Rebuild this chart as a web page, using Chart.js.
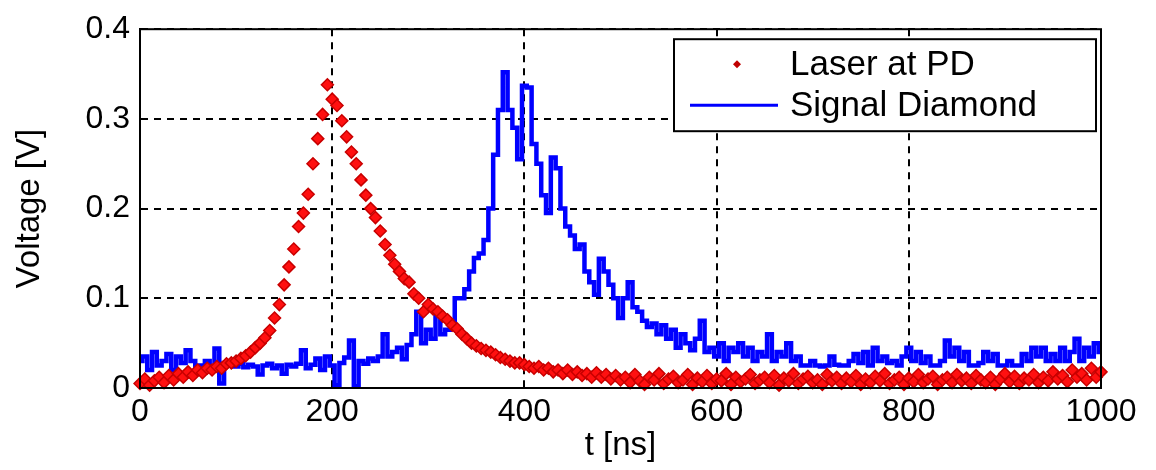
<!DOCTYPE html>
<html>
<head>
<meta charset="utf-8">
<script src="https://cdn.jsdelivr.net/npm/chart.js@4/dist/chart.umd.min.js"></script>
<style>
  html, body { margin: 0; padding: 0; background: #fff; }
  #wrap { width: 1156px; height: 470px; }
</style>
</head>
<body>
<div id="wrap"><canvas id="chart"></canvas></div>
<script>
// sampling step of both traces, in ns
const sampleStepNs = 5

// Laser at PD (red markers), one value every 5 ns from 0 to 1000 ns
const laserAtPd = [
  0.005, 0.01, 0.003, 0.008, 0.012, 0.006, 0.014, 0.009, 0.016, 0.012,
  0.018, 0.014, 0.02, 0.017, 0.022, 0.02, 0.024, 0.022, 0.027, 0.028,
  0.03, 0.033, 0.036, 0.04, 0.045, 0.05, 0.056, 0.064, 0.078, 0.093,
  0.115, 0.135, 0.155, 0.18, 0.195, 0.216, 0.25, 0.278, 0.305, 0.338,
  0.322, 0.315, 0.298, 0.28, 0.263, 0.25, 0.232, 0.215, 0.2, 0.19,
  0.175, 0.16, 0.148, 0.138, 0.13, 0.122, 0.118, 0.105, 0.1, 0.085,
  0.093, 0.088, 0.085, 0.08, 0.076, 0.07, 0.066, 0.06, 0.055, 0.05,
  0.047, 0.044, 0.042, 0.04, 0.037, 0.034, 0.032, 0.03, 0.028, 0.028,
  0.026, 0.024, 0.022, 0.024, 0.02, 0.022, 0.018, 0.02, 0.016, 0.02,
  0.015, 0.018, 0.014, 0.016, 0.012, 0.017, 0.012, 0.015, 0.01, 0.014,
  0.009,
  0.012, 0.006, 0.015, 0.008, 0.004, 0.012, 0.009, 0.016, 0.005, 0.01,
  0.013, 0.006, 0.009, 0.015, 0.004, 0.011, 0.007, 0.014, 0.005, 0.01,
  0.008, 0.016, 0.004, 0.012, 0.007, 0.01, 0.015, 0.005, 0.009, 0.012,
  0.006, 0.014, 0.003, 0.011, 0.008, 0.016, 0.005, 0.01, 0.013, 0.006,
  0.009, 0.004, 0.015, 0.008, 0.012, 0.005, 0.011, 0.007, 0.014, 0.004,
  0.01, 0.006, 0.013, 0.008, 0.016, 0.005, 0.009, 0.012, 0.004, 0.011,
  0.007, 0.015, 0.006, 0.01, 0.013, 0.004, 0.009, 0.012, 0.006, 0.015,
  0.008, 0.011, 0.005, 0.014, 0.009, 0.006, 0.012, 0.004, 0.01, 0.016,
  0.007, 0.013, 0.005, 0.011, 0.009, 0.015, 0.006, 0.012, 0.008, 0.018,
  0.01, 0.014, 0.007, 0.02, 0.012, 0.016, 0.009, 0.022, 0.012, 0.018
]

// Signal Diamond (blue line), same time grid
const signalDiamond = [
  0.03, 0.035, 0.02, 0.04, 0.025, 0.03, 0.038, 0.02, 0.035, 0.028,
  0.042, 0.03, 0.02, 0.025, 0.03, 0.022, 0.044, 0.005, 0.028, 0.025,
  0.024, 0.027, 0.023, 0.026, 0.024, 0.015, 0.025, 0.027, 0.022, 0.025,
  0.016, 0.026, 0.024, 0.027, 0.042, 0.022, 0.026, 0.033, 0.02, 0.035,
  0.025, 0.003, 0.028, 0.034, 0.053, 0.002, 0.03, 0.027, 0.033, 0.03,
  0.035, 0.06, 0.035, 0.04, 0.045, 0.032, 0.048, 0.06, 0.085, 0.05,
  0.065, 0.055, 0.085, 0.06, 0.065, 0.07, 0.1, 0.1, 0.11, 0.13,
  0.145, 0.15, 0.165, 0.2, 0.26, 0.31, 0.352, 0.31, 0.29, 0.255,
  0.337, 0.335, 0.272, 0.25, 0.215, 0.195, 0.257, 0.245, 0.2, 0.18,
  0.17, 0.155, 0.16, 0.13, 0.118, 0.104, 0.144, 0.13, 0.115, 0.1,
  0.078, 0.1, 0.118, 0.09, 0.085, 0.075, 0.068, 0.072, 0.06, 0.07,
  0.055, 0.065, 0.045, 0.06, 0.05, 0.042, 0.055, 0.075, 0.04, 0.045,
  0.035, 0.05, 0.03, 0.045, 0.04, 0.05, 0.035, 0.045, 0.03, 0.04,
  0.035, 0.06, 0.03, 0.04, 0.035, 0.05, 0.03, 0.035, 0.025, 0.025,
  0.03, 0.025, 0.024, 0.025, 0.035, 0.026, 0.025, 0.025, 0.03, 0.038,
  0.028, 0.04, 0.025, 0.045, 0.03, 0.035, 0.028, 0.03, 0.025, 0.035,
  0.045, 0.03, 0.04, 0.028, 0.035, 0.025, 0.025, 0.03, 0.053, 0.035,
  0.045, 0.03, 0.04, 0.025, 0.025, 0.028, 0.04, 0.03, 0.038, 0.025,
  0.025, 0.03, 0.025, 0.025, 0.038, 0.03, 0.045, 0.035, 0.045, 0.03,
  0.038, 0.03, 0.045, 0.03, 0.04, 0.055, 0.03, 0.045, 0.035, 0.05,
  0.04
]

const seriesNames = ['Laser at PD', 'Signal Diamond']

const toPoints = vals => vals.map((v, i) => ({ x: i * sampleStepNs, y: v }))

const FONT = "'Liberation Sans', Arial, sans-serif"

// matlab style box round the axes + legend inside the plot
const boxAndLegend = {
  id: 'boxAndLegend',
  afterDatasetsDraw (chart) {
    const { ctx, chartArea: a } = chart
    ctx.save()
    ctx.strokeStyle = '#000'
    ctx.lineWidth = 2
    ctx.strokeRect(a.left, a.top, a.right - a.left, a.bottom - a.top)

    // legend box
    const w = 422, h = 92
    const lx = a.right - w - 5, ly = a.top + 10
    ctx.fillStyle = '#fff'
    ctx.fillRect(lx, ly, w, h)
    ctx.lineWidth = 2
    ctx.strokeRect(lx, ly, w, h)

    const ds = chart.data.datasets
    ctx.font = '35px ' + FONT
    ctx.textBaseline = 'middle'
    ctx.textAlign = 'left'

    // row 1: red marker
    const r1 = ly + 25
    ctx.fillStyle = '#c00000'
    ctx.beginPath()
    ctx.moveTo(lx + 63, r1 - 4)
    ctx.lineTo(lx + 67, r1)
    ctx.lineTo(lx + 63, r1 + 4)
    ctx.lineTo(lx + 59, r1)
    ctx.closePath()
    ctx.fill()
    ctx.fillStyle = '#000'
    ctx.fillText(ds[0].label, lx + 116, r1 + 1)

    // row 2: blue line
    const r2 = ly + 66
    ctx.strokeStyle = ds[1].borderColor
    ctx.lineWidth = 3
    ctx.beginPath()
    ctx.moveTo(lx + 16, r2)
    ctx.lineTo(lx + 104, r2)
    ctx.stroke()
    ctx.fillText(ds[1].label, lx + 116, r2 + 1)
    ctx.restore()
  }
}

new Chart(document.getElementById('chart'), {
  type: 'line',
  data: {
    datasets: [{
      label: seriesNames[0],
      data: toPoints(laserAtPd),
      showLine: false,
      pointStyle: 'rectRot',
      pointRadius: 6,
      backgroundColor: '#ff1010',
      borderColor: '#c80000',
      pointBorderWidth: 1.5,
      clip: 7,
      order: 1
    }, {
      label: seriesNames[1],
      data: toPoints(signalDiamond),
      stepped: 'middle',
      borderColor: '#0000ff',
      backgroundColor: '#0000ff',
      borderWidth: 4.5,
      pointRadius: 0,
      order: 2
    }]
  },
  options: {
    responsive: true,
    maintainAspectRatio: false,
    animation: false,
    layout: { padding: { left: 0, right: 55, top: 23, bottom: 0 } },
    plugins: {
      legend: { display: false },
      tooltip: { enabled: false }
    },
    scales: {
      x: {
        type: 'linear',
        min: 0,
        max: 1000,
        ticks: { stepSize: 200, color: '#000', padding: 5, maxRotation: 0, font: { family: FONT, size: 32 }, callback: v => String(v) },
        grid: { color: '#000', lineWidth: 2, drawTicks: false },
        border: { display: true, color: '#000', width: 2, dash: [7, 6] },
        title: { display: true, text: 't [ns]', color: '#000', padding: { top: 0, bottom: 4 }, font: { family: FONT, size: 33 } },
        afterFit: s => { s.height = 82 }
      },
      y: {
        min: 0,
        max: 0.4,
        ticks: { stepSize: 0.1, color: '#000', padding: 10, font: { family: FONT, size: 32 } },
        grid: { color: '#000', lineWidth: 2, drawTicks: false },
        border: { display: true, color: '#000', width: 2, dash: [7, 6] },
        title: { display: true, text: 'Voltage [V]', color: '#000', padding: { top: 10, bottom: 0 }, font: { family: FONT, size: 33 } },
        afterFit: s => { s.width = 140 }
      }
    }
  },
  plugins: [boxAndLegend]
})
</script>
</body>
</html>
